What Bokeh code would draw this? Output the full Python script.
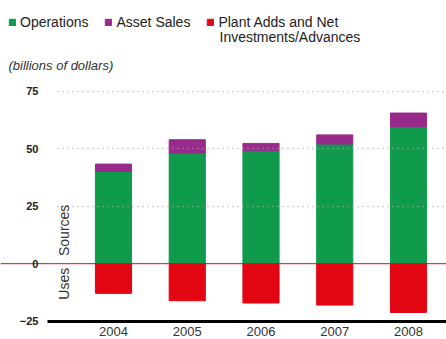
from bokeh.plotting import figure
from bokeh.models import (Range1d, FixedTicker, Label, Legend, LegendItem,
                          ColumnDataSource, LinearAxis, Span)
from bokeh.embed import file_html
from bokeh.resources import INLINE
from math import pi

# ---- data (billions of dollars) ----
years = [2004, 2005, 2006, 2007, 2008]
operations = [40.1, 48.1, 49.1, 52.0, 59.6]
asset_sales = [3.2, 5.8, 3.2, 4.0, 5.9]
plant_adds = [-12.9, -16.1, -17.1, -18.0, -21.2]
y_ticks = [-25, 0, 25, 50, 75]
grid_ticks = [25, 50, 75]

FONT = "Liberation Sans"
GREEN = "#0f9a4c"
PURPLE = "#982a8b"
RED = "#e20613"

src = ColumnDataSource(dict(
    x=years,
    ops=operations,
    ops_top=[o + a for o, a in zip(operations, asset_sales)],
    plant=plant_adds,
    zero=[0] * len(years),
))

X0, X1 = 2002.4678, 2008.5153
Y0, Y1 = -32.96, 114.43
AXIS_X = 2003.105      # left end of the base line
LABEL_X = 2003.064     # where the value labels end
GRID_X = 2003.241      # where the dotted grid starts

p = figure(width=446, height=339, output_backend="svg", toolbar_location=None,
           x_range=Range1d(X0, X1), y_range=Range1d(Y0, Y1),
           min_border_left=0, min_border_right=0, min_border_top=0,
           min_border_bottom=0, title_location=None)
p.outline_line_color = None
p.background_fill_color = "white"
p.border_fill_color = "white"
p.xgrid.visible = False
p.ygrid.visible = False

main_x = p.xaxis[0]


def rule(y, color, width, dash, start):
    ax = LinearAxis(fixed_location=y, bounds=(start, X1),
                    ticker=FixedTicker(ticks=[]))
    ax.axis_line_color = color
    ax.axis_line_width = width
    ax.axis_line_dash = dash
    ax.major_tick_line_color = None
    ax.minor_tick_line_color = None
    ax.major_label_text_color = None
    p.add_layout(ax, "below")
    return ax


# zero line
p.add_layout(Span(location=0, dimension="width", line_color=RED,
                  line_width=1, level="underlay"))

w = 0.49
r_ops = p.vbar(x="x", bottom="zero", top="ops", width=w, source=src,
               fill_color=GREEN, line_color=GREEN)
r_as = p.vbar(x="x", bottom="ops", top="ops_top", width=w, source=src,
              fill_color=PURPLE, line_color=PURPLE)
r_pl = p.vbar(x="x", bottom="plant", top="zero", width=w, source=src,
              fill_color=RED, line_color=RED)

for g in grid_ticks:
    rule(g, "#aaaaaa", 1.5, "1 4", GRID_X)

# axes
main_x.fixed_location = -25
main_x.ticker = FixedTicker(ticks=years)
main_x.bounds = (AXIS_X, X1)
main_x.axis_line_color = "black"
main_x.axis_line_width = 3
main_x.major_tick_line_color = None
main_x.minor_tick_line_color = None
main_x.major_label_text_font = FONT
main_x.major_label_text_font_size = "13px"
main_x.major_label_text_color = "#333333"
main_x.major_label_standoff = 0

p.yaxis.ticker = FixedTicker(ticks=y_ticks)
p.yaxis.fixed_location = LABEL_X
p.yaxis.axis_line_color = None
p.yaxis.major_tick_line_color = None
p.yaxis.minor_tick_line_color = None
p.yaxis.major_label_text_font = FONT
p.yaxis.major_label_text_font_size = "11px"
p.yaxis.major_label_text_font_style = "bold"
p.yaxis.major_label_text_color = "#222222"
p.yaxis.major_label_standoff = 0

# Sources / Uses side labels
p.add_layout(Label(x=63, x_units="screen", y=14.5, text="Sources", angle=pi / 2,
                   text_align="center", text_baseline="middle",
                   text_font=FONT, text_font_size="14px", text_color="#333333"))
p.add_layout(Label(x=63, x_units="screen", y=-8.7, text="Uses", angle=pi / 2,
                   text_align="center", text_baseline="middle",
                   text_font=FONT, text_font_size="14px", text_color="#333333"))

# subtitle
p.add_layout(Label(x=8, x_units="screen", y=274, y_units="screen",
                   text="(billions of dollars)", text_font=FONT,
                   text_font_size="13px", text_font_style="italic",
                   text_color="#333333", text_baseline="middle"))

# legend
legend = Legend(items=[
    LegendItem(label="Operations", renderers=[r_ops]),
    LegendItem(label="Asset Sales", renderers=[r_as]),
    LegendItem(label="Plant Adds and Net", renderers=[r_pl]),
], orientation="horizontal", location=(8, 309))
legend.glyph_width = 8
legend.glyph_height = 8
legend.label_height = 14
legend.label_standoff = 4
legend.spacing = 16
legend.padding = 0
legend.margin = 0
legend.border_line_color = None
legend.background_fill_alpha = 0
legend.label_text_font = FONT
legend.label_text_font_size = "14px"
legend.label_text_color = "#222222"
p.add_layout(legend)

p.add_layout(Label(x=219, x_units="screen", y=303, y_units="screen",
                   text="Investments/Advances", text_font=FONT,
                   text_font_size="14px", text_color="#222222",
                   text_baseline="middle"))

open("out.html", "w").write(file_html(p, INLINE))
